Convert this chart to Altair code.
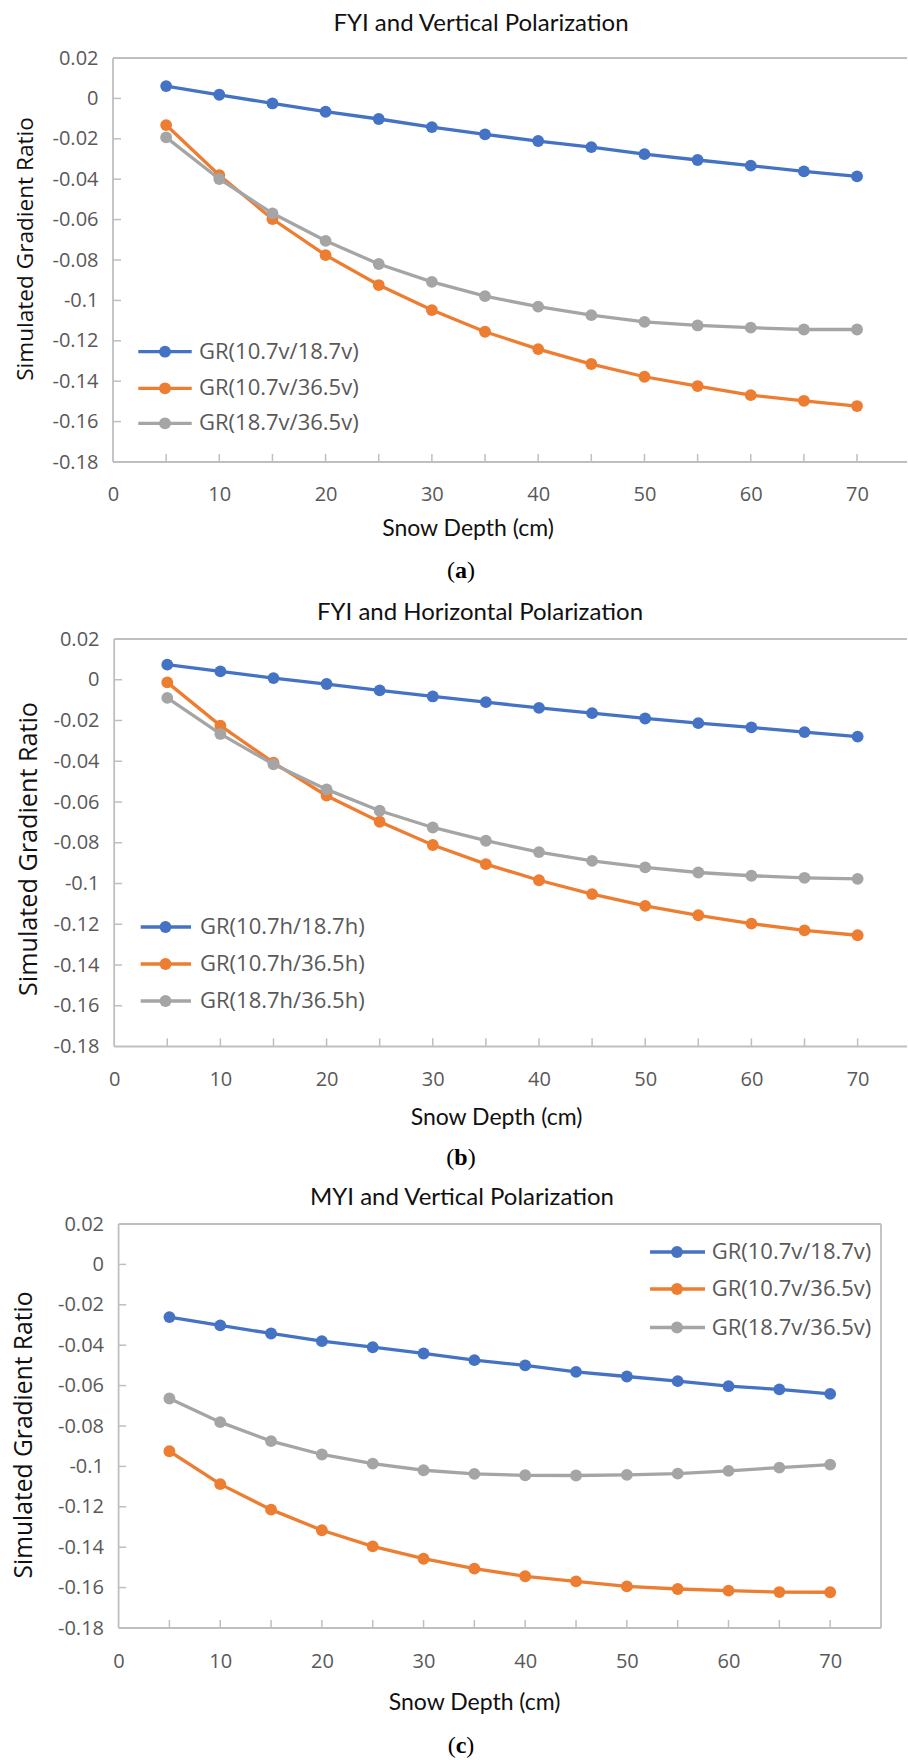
import altair as alt
import pandas as pd

# ---------------- data ----------------
depth = [5, 10, 15, 20, 25, 30, 35, 40, 45, 50, 55, 60, 65, 70]

labels_v = ["GR(10.7v/18.7v)", "GR(10.7v/36.5v)", "GR(18.7v/36.5v)"]
labels_h = ["GR(10.7h/18.7h)", "GR(10.7h/36.5h)", "GR(18.7h/36.5h)"]

# (a) FYI, vertical polarization
fyi_v_10_18 = [0.0061, 0.0018, -0.0025, -0.0066, -0.0102, -0.0142, -0.0178,
               -0.0211, -0.0241, -0.0276, -0.0305, -0.0333, -0.0361, -0.0386]
fyi_v_10_36 = [-0.0132, -0.0380, -0.0597, -0.0776, -0.0924, -0.1048, -0.1155,
               -0.1241, -0.1315, -0.1378, -0.1424, -0.1469, -0.1497, -0.1523]
fyi_v_18_36 = [-0.0193, -0.0399, -0.0569, -0.0705, -0.0820, -0.0908, -0.0979,
               -0.1031, -0.1073, -0.1106, -0.1124, -0.1135, -0.1144, -0.1144]

# (b) FYI, horizontal polarization
fyi_h_10_18 = [0.0074, 0.0041, 0.0008, -0.0021, -0.0052, -0.0082, -0.0110,
               -0.0138, -0.0164, -0.0190, -0.0213, -0.0234, -0.0257, -0.0279]
fyi_h_10_36 = [-0.0013, -0.0225, -0.0407, -0.0569, -0.0697, -0.0811, -0.0905,
               -0.0984, -0.1052, -0.1110, -0.1156, -0.1197, -0.1230, -0.1254]
fyi_h_18_36 = [-0.0089, -0.0266, -0.0415, -0.0538, -0.0643, -0.0725, -0.0790,
               -0.0846, -0.0889, -0.0921, -0.0946, -0.0962, -0.0972, -0.0977]

# (c) MYI, vertical polarization
myi_v_10_18 = [-0.0261, -0.0302, -0.0342, -0.0380, -0.0410, -0.0441, -0.0474,
               -0.0500, -0.0532, -0.0555, -0.0578, -0.0603, -0.0619, -0.0641]
myi_v_10_36 = [-0.0925, -0.1088, -0.1214, -0.1316, -0.1396, -0.1457, -0.1506,
               -0.1544, -0.1569, -0.1594, -0.1607, -0.1615, -0.1622, -0.1623]
myi_v_18_36 = [-0.0664, -0.0781, -0.0875, -0.0941, -0.0986, -0.1019, -0.1037,
               -0.1044, -0.1045, -0.1042, -0.1036, -0.1022, -0.1006, -0.0991]

y_values = [0.02, 0, -0.02, -0.04, -0.06, -0.08, -0.1, -0.12, -0.14, -0.16, -0.18]
y_inner_ticks = [0, -0.02, -0.04, -0.06, -0.08, -0.1, -0.12, -0.14, -0.16]
x_values = [0, 10, 20, 30, 40, 50, 60, 70]

panel_titles = ["FYI and Vertical Polarization",
                "FYI and Horizontal Polarization",
                "MYI and Vertical Polarization"]
caption_letters = ["a", "b", "c"]
x_title = "Snow Depth (cm)"
y_title = "Simulated Gradient Ratio"

# ---------------- style ----------------
colors = ["#4472C4", "#ED7D31", "#A5A5A5"]
BORDER = "#BFBFBF"
LABEL_COLOR = "#595959"
TEXT_COLOR = "#111111"
LABEL_FONT = "Open Sans"
TITLE_FONT = "Lato"
CAP_FONT = "Liberation Serif"
LINE_W = 3.3
MARK_SIZE = 140

layouts = [
    dict(w=794, h=404, xdom=[0, 74.7], xmax=74.7, right_border=False,
         xlp=22, ylp=15,
         title=(368, -34, 24), ytitle=(-86.6, 191, 22.6),
         xtitle=(355, 471.4, 23), cap=(461 - 113, 513),
         leg_y=[293.7, 330.3, 365.3], leg_x=(25.3, 78.7, 52, 86)),
    dict(w=794, h=407.5, xdom=[-0.11, 74.65], xmax=74.65, right_border=False,
         xlp=22.7, ylp=14,
         title=(367, -25.6, 24), ytitle=(-83.6, 210, 25.2),
         xtitle=(383.5, 479, 23), cap=(461 - 113, 518.7),
         leg_y=[288, 325, 362], leg_x=(27.7, 78, 52.5, 87)),
    dict(w=768, h=404, xdom=[-0.55, 75], xmax=75, right_border=True,
         xlp=23.5, ylp=9.5,
         title=(349, -25.6, 24), ytitle=(-87.6, 211, 24.6),
         xtitle=(361.6, 479.1, 23), cap=(461 - 113, 522),
         leg_y=[28, 65, 103.5], leg_x=(537, 592, 564, 598.7)),
]

letter_w = {"a": 12, "b": 13.3, "c": 10.7}


def one_row(text):
    return pd.DataFrame({"t": [text]})


def panel(series, labels, title, letter, L, anchor=False):
    xs = alt.Scale(domain=L["xdom"], nice=False, zero=False)
    ys = alt.Scale(domain=[-0.18, 0.02], nice=False, zero=False)
    xax = alt.Axis(values=x_values, labelExpr="'' + datum.value", title=None,
                   labelPadding=L["xlp"], labelFlush=False, labelOverlap=False)
    yax = alt.Axis(values=y_values, labelExpr="'' + datum.value", title=None,
                   labelPadding=L["ylp"], labelFlush=False, labelOverlap=False)

    def X(f):
        return alt.X(f, scale=xs, axis=xax)

    def Y(f):
        return alt.Y(f, scale=ys, axis=yax)

    def XD(v):
        return alt.XDatum(v, type="quantitative", scale=xs, axis=xax)

    def YD(v):
        return alt.YDatum(v, type="quantitative", scale=ys, axis=yax)

    layers = []

    # plot-area border
    hb = pd.DataFrame({"y": [0.02, -0.18]})
    layers.append(alt.Chart(hb).mark_rule(color=BORDER, strokeWidth=1.8).encode(
        y=Y("y:Q"), x=XD(0), x2=alt.X2Datum(L["xmax"])))
    vb_vals = [0, 75] if L["right_border"] else [0]
    vb = pd.DataFrame({"x": vb_vals})
    layers.append(alt.Chart(vb).mark_rule(color=BORDER, strokeWidth=1.8).encode(
        x=X("x:Q"), y=YD(-0.18), y2=alt.Y2Datum(0.02)))

    # inward tick marks
    xt = pd.DataFrame({"x": depth})
    layers.append(alt.Chart(xt).mark_rule(color=BORDER, strokeWidth=1.5).encode(
        x=X("x:Q"), y=YD(-0.18), y2=alt.Y2Datum(-0.176)))
    yt = pd.DataFrame({"y": y_inner_ticks})
    layers.append(alt.Chart(yt).mark_rule(color=BORDER, strokeWidth=1.5).encode(
        y=Y("y:Q"), x=XD(0), x2=alt.X2Datum(0.75)))

    # series: line then markers, in Excel order
    for lab, vals, col in zip(labels, series, colors):
        df = pd.DataFrame({"depth": depth, "value": vals, "series": lab})
        base = alt.Chart(df).encode(x=X("depth:Q"), y=Y("value:Q"))
        layers.append(base.mark_line(color=col, strokeWidth=LINE_W))
        layers.append(base.mark_point(color=col, filled=True, opacity=1,
                                      size=MARK_SIZE))

    # legend
    lx1, lx2, lmx, ltx = L["leg_x"]
    for lab, col, ly in zip(labels, colors, L["leg_y"]):
        d = one_row(lab)
        layers.append(alt.Chart(d).mark_rule(color=col, strokeWidth=LINE_W).encode(
            x=alt.value(lx1), x2=alt.value(lx2), y=alt.value(ly)))
        layers.append(alt.Chart(d).mark_point(color=col, filled=True, opacity=1,
                                              size=MARK_SIZE).encode(
            x=alt.value(lmx), y=alt.value(ly)))
        layers.append(alt.Chart(d).mark_text(
            font=LABEL_FONT, fontSize=22, color=LABEL_COLOR, align="left",
            baseline="middle").encode(
            x=alt.value(ltx), y=alt.value(ly), text="t:N"))

    # panel title
    tx, ty, tfs = L["title"]
    layers.append(alt.Chart(one_row(title)).mark_text(
        font=TITLE_FONT, fontSize=tfs, color=TEXT_COLOR, align="center",
        baseline="middle").encode(x=alt.value(tx), y=alt.value(ty), text="t:N"))

    # y title
    yx, yy, yfs = L["ytitle"]
    layers.append(alt.Chart(one_row(y_title)).mark_text(
        font=LABEL_FONT, fontSize=yfs, color=TEXT_COLOR, align="center",
        baseline="middle", angle=270).encode(
        x=alt.value(yx), y=alt.value(yy), text="t:N"))

    # x title
    xx, xy, xfs = L["xtitle"]
    layers.append(alt.Chart(one_row(x_title)).mark_text(
        font=TITLE_FONT, fontSize=xfs, color=TEXT_COLOR, align="center",
        baseline="middle").encode(x=alt.value(xx), y=alt.value(xy), text="t:N"))

    # caption "(a)" with bold letter
    cx, cy = L["cap"]
    hw = letter_w[letter] / 2
    layers.append(alt.Chart(one_row("(")).mark_text(
        font=CAP_FONT, fontSize=24, color="#000000", align="right",
        baseline="middle").encode(x=alt.value(cx - hw), y=alt.value(cy), text="t:N"))
    layers.append(alt.Chart(one_row(letter)).mark_text(
        font=CAP_FONT, fontSize=24, fontWeight="bold", color="#000000",
        align="center", baseline="middle").encode(
        x=alt.value(cx), y=alt.value(cy), text="t:N"))
    layers.append(alt.Chart(one_row(")")).mark_text(
        font=CAP_FONT, fontSize=24, color="#000000", align="left",
        baseline="middle").encode(x=alt.value(cx + hw), y=alt.value(cy), text="t:N"))

    if anchor:
        # invisible layout anchor at the page's top-left corner
        layers.append(alt.Chart(one_row("")).mark_point(
            size=1, filled=True, opacity=0).encode(
            x=alt.value(-112.5), y=alt.value(-57.5)))

    return alt.layer(*layers).properties(width=L["w"], height=L["h"])


pa = panel([fyi_v_10_18, fyi_v_10_36, fyi_v_18_36], labels_v,
           panel_titles[0], caption_letters[0], layouts[0], anchor=True)
pb = panel([fyi_h_10_18, fyi_h_10_36, fyi_h_18_36], labels_h,
           panel_titles[1], caption_letters[1], layouts[1])
pc = panel([myi_v_10_18, myi_v_10_36, myi_v_18_36], labels_v,
           panel_titles[2], caption_letters[2], layouts[2])

chart = alt.vconcat(pa, pb, pc, spacing=177, bounds="flush").properties(
    padding=0, background="white"
).configure_view(stroke=None).configure_axis(
    grid=False, domain=False, ticks=False,
    labelFont=LABEL_FONT, labelFontSize=20, labelColor=LABEL_COLOR,
)

chart.save("out.html", embed_options={"renderer": "svg", "actions": False})
